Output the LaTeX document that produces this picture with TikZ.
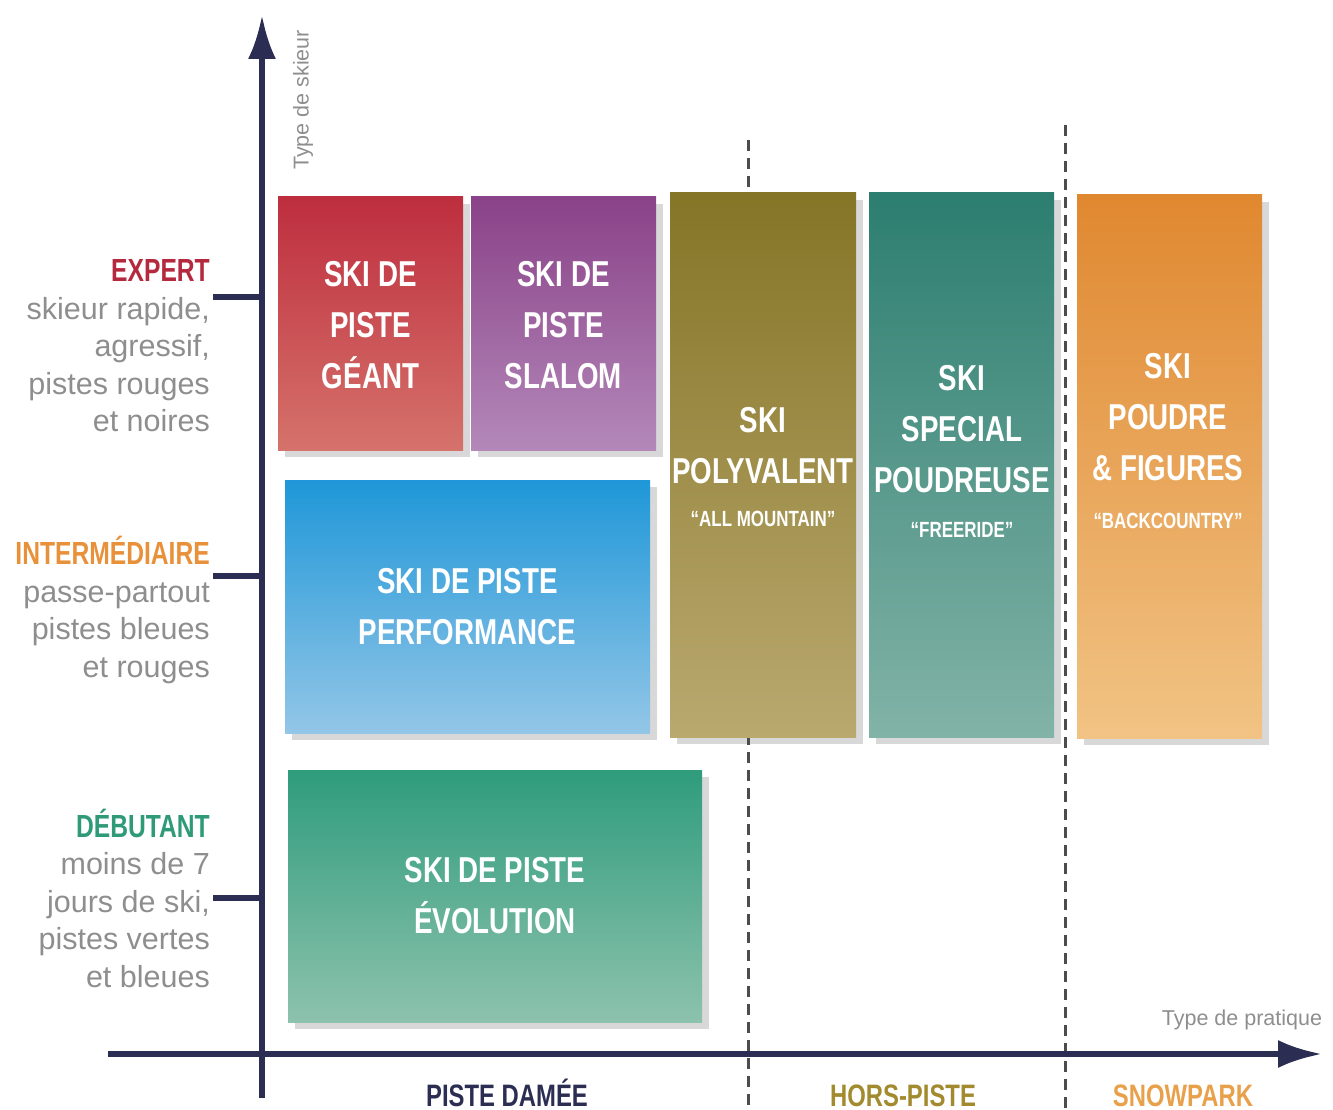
\documentclass[tikz,border=0pt]{standalone}
\usepackage{fontspec}
\setmainfont{Liberation Sans}
\newfontfamily\condfont[FakeStretch=0.77]{Liberation Sans}
\usetikzlibrary{positioning, calc, shadows, arrows.meta}
\usepackage{xcolor}
\definecolor{axisblue}{HTML}{2B2D52}
\definecolor{textgray}{HTML}{8E8E8E}
\definecolor{expertred}{HTML}{B5293F}
\definecolor{interorange}{HTML}{E8913A}
\definecolor{debgreen}{HTML}{2E9A78}
\definecolor{horsgold}{HTML}{A28A2E}
\definecolor{snoworange}{HTML}{E9A04A}
\definecolor{geanttop}{HTML}{BE2E3E}
\definecolor{geantbot}{HTML}{D5726B}
\definecolor{slalomtop}{HTML}{8A4288}
\definecolor{slalombot}{HTML}{B388B9}
\definecolor{perftop}{HTML}{1F97D8}
\definecolor{perfbot}{HTML}{93C6E7}
\definecolor{evoltop}{HTML}{2F9C7C}
\definecolor{evolbot}{HTML}{8DC2AD}
\definecolor{polytop}{HTML}{857527}
\definecolor{polybot}{HTML}{BAA96F}
\definecolor{poudtop}{HTML}{2C7E70}
\definecolor{poudbot}{HTML}{82B3A7}
\definecolor{figtop}{HTML}{E08830}
\definecolor{figbot}{HTML}{F1C384}
\newcommand{\lvltitle}{\condfont\bfseries\fontsize{32}{37.5}\selectfont}
\tikzstyle{SkiBox} = [
rectangle, inner sep=0pt,
drop shadow={shadow xshift=7pt, shadow yshift=-7pt, opacity=0.22, fill=black!70}]
\tikzstyle{BoxText} = [
text=white, align=center, inner sep=0pt,
font=\condfont\bfseries\fontsize{36}{51}\selectfont]
\tikzstyle{Level} = [
anchor=east, align=right, inner sep=0pt, text=textgray,
font=\fontsize{30.5}{37.5}\selectfont]
\tikzstyle{Zone} = [anchor=base, inner sep=0pt, font=\condfont\bfseries\fontsize{31}{36}\selectfont]
\tikzstyle{AxisLabel} = [inner sep=0pt, text=textgray, font=\fontsize{21.5}{25}\selectfont]
\tikzstyle{Axis} = [line width=6pt, axisblue, -{Latex[length=44pt,width=28pt]}]
\tikzstyle{Tick} = [line width=6pt, axisblue]
\tikzstyle{Divider} = [line width=3pt, dash pattern=on 11pt off 7pt, black!70]

\begin{document}
\begin{tikzpicture}[x=1pt, y=-1pt]
    \useasboundingbox (0,0) rectangle (1333,1110);

    \draw[Divider] (748,140) -- (748,1110);
    \draw[Divider] (1065,125) -- (1065,1110);

    \node[SkiBox, minimum width=185pt, minimum height=253pt,
        top color=geanttop, bottom color=geantbot] (geant) at (370.5,323.5) {};
    \node[SkiBox, minimum width=185pt, minimum height=253pt,
        top color=slalomtop, bottom color=slalombot] (slalom) at (563.5,323.5) {};
    \node[SkiBox, minimum width=365pt, minimum height=253pt,
        top color=perftop, bottom color=perfbot] (perf) at (467.5,606.5) {};
    \node[SkiBox, minimum width=414pt, minimum height=252pt,
        top color=evoltop, bottom color=evolbot] (evol) at (495,896) {};
    \node[SkiBox, minimum width=186pt, minimum height=544pt,
        top color=polytop, bottom color=polybot] (poly) at (763,465) {};
    \node[SkiBox, minimum width=185pt, minimum height=544pt,
        top color=poudtop, bottom color=poudbot] (poud) at (961.5,465) {};
    \node[SkiBox, minimum width=185pt, minimum height=543pt,
        top color=figtop, bottom color=figbot] (fig) at (1169.5,466.5) {};

    \node[BoxText] (geanttxt) at (370.5,325) {SKI DE\\PISTE\\GÉANT};
    \node[BoxText] (slalomtxt) at (563.5,325) {SKI DE\\PISTE\\SLALOM};
    \node[BoxText] (perftxt) at (467.5,607) {SKI DE PISTE\\PERFORMANCE};
    \node[BoxText] (evoltxt) at (495,896) {SKI DE PISTE\\ÉVOLUTION};
    \node[BoxText] (polytxt) at (763,467) {SKI\\POLYVALENT\\[-8pt]
        {\fontsize{22}{26}\selectfont “ALL MOUNTAIN”}};
    \node[BoxText] (poudtxt) at (962,451) {SKI\\SPECIAL\\POUDREUSE\\[-6pt]
        {\fontsize{22}{26}\selectfont “FREERIDE”}};
    \node[BoxText] (figtxt) at (1168,441) {SKI\\POUDRE\\\& FIGURES\\[-3pt]
        {\fontsize{22}{26}\selectfont “BACKCOUNTRY”}};

    \draw[Axis] (262,1098) -- (262,15);
    \draw[Axis] (108,1054) -- (1322,1054);
    \draw[Tick] (213,297) -- (262,297);
    \draw[Tick] (213,576) -- (262,576);
    \draw[Tick] (213,898) -- (262,898);

    \node[AxisLabel, rotate=90] (ylab) at (303,100) {Type de skieur};
    \node[AxisLabel] (xlab) at (1242,1020) {Type de pratique};

    \node[Level] (expert) at (210,346) {{\lvltitle\color{expertred}EXPERT}\\
        skieur rapide,\\agressif,\\pistes rouges\\et noires};
    \node[Level] (inter) at (210,610) {{\lvltitle\color{interorange}INTERMÉDIAIRE}\\
        passe-partout\\pistes bleues\\et rouges};
    \node[Level] (debutant) at (210,898) {{\lvltitle\color{debgreen}DÉBUTANT}\\
        moins de 7\\jours de ski,\\pistes vertes\\et bleues};

    \node[Zone, text=axisblue] (piste) at (507,1106) {PISTE DAMÉE};
    \node[Zone, text=horsgold] (hors) at (903,1106) {HORS-PISTE};
    \node[Zone, text=snoworange] (snow) at (1183,1106) {SNOWPARK};
\end{tikzpicture}
\end{document}
